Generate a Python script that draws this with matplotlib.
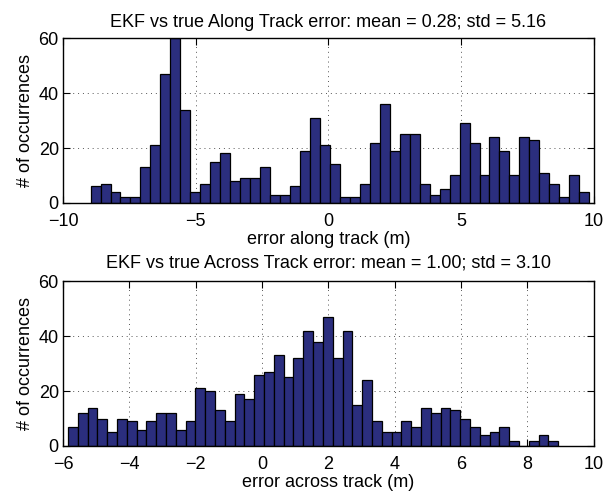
import numpy as np
import matplotlib
matplotlib.use('Agg')
import matplotlib.pyplot as plt

plt.rcParams['font.family'] = ['Liberation Sans', 'DejaVu Sans']

# histogram counts (50 bins each)
along_counts = [6, 7, 4, 2, 2, 13, 21, 47, 60, 34,
                4, 7, 15, 18, 8, 9, 9, 13, 3, 3,
                6, 19, 31, 21, 14, 2, 2, 7, 22, 36,
                19, 25, 25, 7, 3, 5, 10, 29, 22, 10,
                24, 19, 10, 24, 23, 11, 7, 2, 10, 4]
along_range = (-8.96, 9.83)

across_counts = [7, 12, 14, 10, 5, 10, 9, 6, 9, 12,
                 12, 6, 9, 21, 20, 13, 9, 19, 17, 26,
                 27, 33, 25, 32, 42, 38, 47, 32, 42, 15,
                 24, 9, 5, 5, 9, 7, 14, 12, 14, 13,
                 10, 7, 4, 5, 7, 2, 0, 2, 4, 2]
across_range = (-5.85, 8.93)

titles = ["EKF vs true Along Track error: mean = 0.28; std = 5.16",
          "EKF vs true Across Track error: mean = 1.00; std = 3.10"]
xlabels = ["error along track (m)", "error across track (m)"]
xlims = [(-10, 10), (-6, 10)]
xticks = [np.arange(-10, 11, 5), np.arange(-6, 11, 2)]
yticks = [0, 20, 40, 60]

BAR_COLOR = '#2b2e7e'
FS = 13


def plot_hist(ax, counts, rng, title, xlabel, xlim, xt, pad):
    edges = np.linspace(rng[0], rng[1], len(counts) + 1)
    width = edges[1] - edges[0]
    ax.bar(edges[:-1], counts, width=width, align='edge', color=BAR_COLOR,
           edgecolor='black', linewidth=0.9, zorder=2)
    ax.set_xlim(*xlim)
    ax.set_ylim(0, 60)
    ax.set_xticks(xt)
    ax.set_yticks(yticks)
    ax.set_xticklabels([('\u2212%d' % -t) if t < 0 else '%d' % t for t in xt])
    ax.grid(True, linestyle=(0, (1, 4)), color='#555555', linewidth=0.7, zorder=0)
    ax.set_axisbelow(True)
    ax.tick_params(direction='in', top=True, right=True, length=5,
                   labelsize=FS)
    ax.tick_params(axis='x', pad=7)
    ax.tick_params(axis='y', pad=3)
    ax.set_title(title, fontsize=FS, pad=pad)
    ax.set_xlabel(xlabel, fontsize=FS, labelpad=1)
    ax.set_ylabel("# of occurrences", fontsize=FS, labelpad=3)
    for s in ax.spines.values():
        s.set_linewidth(1.0)


fig = plt.figure(figsize=(6.15, 4.95), dpi=100, facecolor='w')
ax1 = fig.add_axes([0.1024, 0.590, 0.863, 0.333])
ax2 = fig.add_axes([0.1024, 0.099, 0.863, 0.333])

plot_hist(ax1, along_counts, along_range, titles[0], xlabels[0], xlims[0], xticks[0], 8)
plot_hist(ax2, across_counts, across_range, titles[1], xlabels[1], xlims[1], xticks[1], 10)

fig.savefig('out.png', dpi=100)
